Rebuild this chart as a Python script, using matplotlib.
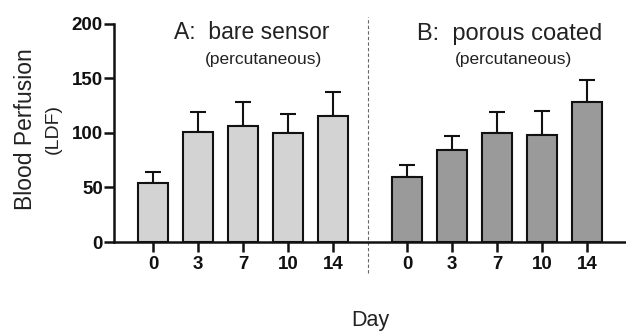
import matplotlib
matplotlib.use("Agg")
import matplotlib.pyplot as plt
import numpy as np

days = ["0", "3", "7", "10", "14"]
bare_mean = [54, 101, 106, 100, 116]
bare_err = [10, 18, 22, 17, 22]
coated_mean = [60, 84, 100, 98, 128]
coated_err = [11, 13, 19, 22, 21]
yticks = [0, 50, 100, 150, 200]

plt.rcParams["font.family"] = ["Liberation Sans", "DejaVu Sans"]


def main():
    fig = plt.figure(figsize=(6.26, 3.32), dpi=100)
    ax = fig.add_axes([0.182, 0.271, 0.816, 0.657])

    pos_a = np.arange(5)
    pos_b = np.arange(5) + 5.65
    w = 0.67
    ekw = dict(elinewidth=1.5, capsize=6, capthick=1.5, ecolor="#111111")

    ax.bar(pos_a, bare_mean, w, color="#d3d3d3", edgecolor="#111111",
           linewidth=1.5, zorder=3)
    ax.errorbar(pos_a, bare_mean, yerr=[np.zeros(5), bare_err], fmt="none",
                zorder=2, **ekw)
    ax.bar(pos_b, coated_mean, w, color="#9a9a9a", edgecolor="#111111",
           linewidth=1.5, zorder=3)
    ax.errorbar(pos_b, coated_mean, yerr=[np.zeros(5), coated_err],
                fmt="none", zorder=2, **ekw)

    ax.set_xlim(-0.87, 10.49)
    ax.set_ylim(0, 200)
    ax.set_yticks(yticks)
    ax.set_xticks(np.concatenate([pos_a, pos_b]))
    ax.set_xticklabels(days + days)
    for lab in ax.get_xticklabels() + ax.get_yticklabels():
        lab.set_fontweight("bold")
        lab.set_fontsize(13.5)
        lab.set_color("#111111")
    ax.tick_params(axis="both", width=1.8, length=7, direction="out",
                   color="#111111")
    ax.tick_params(axis="x", pad=3)
    ax.tick_params(axis="y", pad=1)

    for s in ["top", "right"]:
        ax.spines[s].set_visible(False)
    for s in ["left", "bottom"]:
        ax.spines[s].set_linewidth(1.8)
        ax.spines[s].set_color("#111111")

    ax.axvline(4.78, ymin=-0.14, ymax=1.03, color="#666666", lw=0.8,
               ls=(0, (3, 2)), clip_on=False)

    ax.text(2.2, 192, "A:  bare sensor", ha="center", va="center",
            fontsize=16.5, color="#222222")
    ax.text(2.45, 167, "(percutaneous)", ha="center", va="center",
            fontsize=12.5, color="#222222")
    ax.text(7.93, 191, "B:  porous coated", ha="center", va="center",
            fontsize=17, color="#222222")
    ax.text(8.02, 167, "(percutaneous)", ha="center", va="center",
            fontsize=12.5, color="#222222")

    fig.text(0.04, 0.61, "Blood Perfusion", rotation=90, ha="center",
             va="center", fontsize=16.5, color="#222222")
    fig.text(0.085, 0.61, "(LDF)", rotation=90, ha="center", va="center",
             fontsize=14, color="#222222")
    fig.text(0.591, 0.036, "Day", ha="center", va="center", fontsize=15.5,
             color="#222222")

    fig.savefig("out.png", dpi=100)


if __name__ == "__main__":
    main()
